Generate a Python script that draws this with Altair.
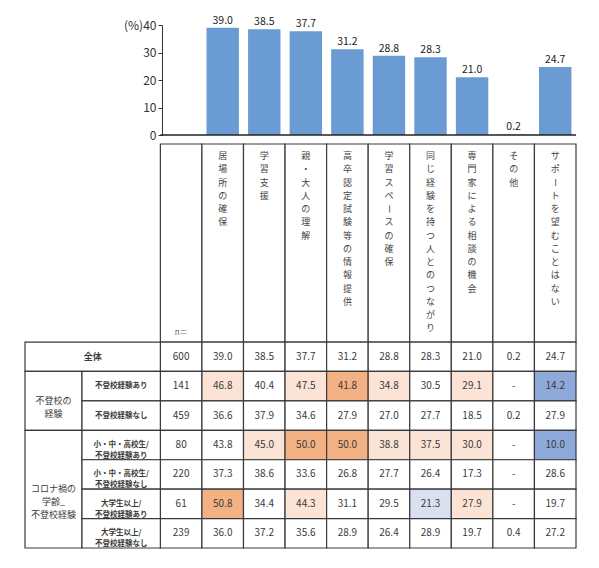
import altair as alt
import pandas as pd

# ---------------- data ----------------
categories = ["居場所の確保", "学習支援", "親・大人の理解", "高卒認定試験等の情報提供",
              "学習スペースの確保", "同じ経験を持つ人とのつながり", "専門家による相談の機会",
              "その他", "サポートを望むことはない"]
overall = [39.0, 38.5, 37.7, 31.2, 28.8, 28.3, 21.0, 0.2, 24.7]

row_labels = ["全体", "不登校経験あり", "不登校経験なし",
              "小・中・高校生/\n不登校経験あり", "小・中・高校生/\n不登校経験なし",
              "大学生以上/\n不登校経験あり", "大学生以上/\n不登校経験なし"]
row_n = [600, 141, 459, 80, 220, 61, 239]
group_labels = ["不登校の\n経験", "コロナ禍の\n学齢_\n不登校経験"]
group_first_row = [1, 3]
group_row_count = [2, 4]

row_values = [
    overall,
    [46.8, 40.4, 47.5, 41.8, 34.8, 30.5, 29.1, None, 14.2],
    [36.6, 37.9, 34.6, 27.9, 27.0, 27.7, 18.5, 0.2, 27.9],
    [43.8, 45.0, 50.0, 50.0, 38.8, 37.5, 30.0, None, 10.0],
    [37.3, 38.6, 33.6, 26.8, 27.7, 26.4, 17.3, None, 28.6],
    [50.8, 34.4, 44.3, 31.1, 29.5, 21.3, 27.9, None, 19.7],
    [36.0, 37.2, 35.6, 28.9, 26.4, 28.9, 19.7, 0.4, 27.2],
]
y_ticks = [0, 10, 20, 30, 40]

# ---------------- layout (column units / row units) ----------------
GROUP_W = 1.371
SUB_W = 1.886
X0 = -(GROUP_W + SUB_W)
XMAX = 10
HEADER_H = 6.73
CH_TOP = 0.41
CH_STEP = 0.4506
BAR_PAD = 0.11
FONT = "Noto Sans CJK JP"
TXT = "#3a3a3a"

# ---------------- bar chart ----------------
bars_df = pd.DataFrame({
    "cat": categories,
    "v": overall,
    "bx": [i + 1 + BAR_PAD for i in range(len(categories))],
    "bx2": [i + 2 - BAR_PAD for i in range(len(categories))],
    "mx": [i + 1.5 for i in range(len(categories))],
    "lab": [f"{v:.1f}" for v in overall],
})
base_df = pd.DataFrame({"bx": [0], "bx2": [XMAX], "v": [0]})

xs = alt.Scale(domain=[X0, XMAX], nice=False, zero=False)
ys_bar = alt.Scale(domain=[0, 40], nice=False)
y_axis = alt.Axis(
    values=y_ticks, offset=-137, grid=False, title=None,
    tickSize=4, domainColor="#333", tickColor="#333", labelColor="#333",
    labelFontSize=12, labelFont=FONT, labelPadding=2, labelOverlap=False,
    labelExpr="datum.value == 40 ? '(%)40' : datum.label")

bars = alt.Chart(bars_df).mark_bar(color="#6b9bd3").encode(
    x=alt.X("bx:Q", scale=xs, axis=None),
    x2="bx2:Q",
    y=alt.Y("v:Q", scale=ys_bar, axis=y_axis),
    y2=alt.Y2(datum=0),
)
bar_labels = alt.Chart(bars_df).mark_text(baseline="bottom", dy=-2, fontSize=10.5,
                                          font=FONT, color="#222").encode(
    x=alt.X("mx:Q", scale=xs, axis=None),
    y=alt.Y("v:Q", scale=ys_bar, axis=y_axis),
    text="lab:N",
)
baseline = alt.Chart(base_df).mark_rule(color="#222", strokeWidth=1.6).encode(
    x=alt.X("bx:Q", scale=xs, axis=None),
    x2="bx2:Q",
    y=alt.Y("v:Q", scale=ys_bar, axis=y_axis),
)
top = alt.layer(bars, bar_labels, baseline).properties(width=551, height=110)

# ---------------- table ----------------
def cls(v, ref):
    if v is None:
        return "none"
    d = round(v - ref, 1)
    if d > 10:
        return "up10"
    if d > 5:
        return "up5"
    if d < -10:
        return "down10"
    if d < -5:
        return "down5"
    return "none"

rects = []
nums = []
# header cells (n column + categories)
for c in range(len(categories) + 1):
    rects.append(dict(x=c, x2=c + 1, y=-HEADER_H, y2=0, cls="none"))
# body
for r in range(len(row_labels)):
    rects.append(dict(x=0, x2=1, y=r, y2=r + 1, cls="none"))
    nums.append(dict(x=0.5, y=r + 0.5, t=str(row_n[r])))
    for c, v in enumerate(row_values[r]):
        k = "none" if r == 0 else cls(v, overall[c])
        rects.append(dict(x=c + 1, x2=c + 2, y=r, y2=r + 1, cls=k))
        nums.append(dict(x=c + 1.5, y=r + 0.5, t="-" if v is None else f"{v:.1f}"))
# label cells
rects.append(dict(x=X0, x2=0, y=0, y2=1, cls="none"))
for g in range(len(group_labels)):
    rects.append(dict(x=X0, x2=X0 + GROUP_W, y=group_first_row[g],
                      y2=group_first_row[g] + group_row_count[g], cls="none"))
for r in range(1, len(row_labels)):
    rects.append(dict(x=X0 + GROUP_W, x2=0, y=r, y2=r + 1, cls="none"))

rect_df = pd.DataFrame(rects)
num_df = pd.DataFrame(nums)
sub_df = pd.DataFrame({"x": [X0 + GROUP_W + SUB_W / 2] * 6,
                       "y": [r + 0.5 for r in range(1, 7)],
                       "t": row_labels[1:]})
all_df = pd.DataFrame({"x": [X0 / 2], "y": [0.5], "t": [row_labels[0]]})
grp_df = pd.DataFrame({"x": [X0 + GROUP_W / 2] * len(group_labels),
                       "y": [group_first_row[g] + group_row_count[g] / 2 for g in range(len(group_labels))],
                       "t": group_labels})
chars = []
for c, name in enumerate(categories):
    for i, ch in enumerate(name):
        chars.append(dict(x=c + 1.5, y=-HEADER_H + CH_TOP + i * CH_STEP, t=ch,
                          ang=90 if ch == "ー" else 0))
char_df = pd.DataFrame(chars)
nlab_df = pd.DataFrame({"x": [0.5], "y": [-0.31], "t": ["n＝"]})

ys_tab = alt.Scale(domain=[-HEADER_H, 7], reverse=True, nice=False, zero=False)
X = lambda: alt.X("x:Q", scale=xs, axis=None)
Y = lambda: alt.Y("y:Q", scale=ys_tab, axis=None)

cells = alt.Chart(rect_df).mark_rect(stroke="#3a3a3a", strokeWidth=1.2).encode(
    x=X(), x2="x2:Q", y=Y(), y2="y2:Q",
    fill=alt.Fill("cls:N", legend=None, scale=alt.Scale(
        domain=["none", "up5", "up10", "down5", "down10"],
        range=["#ffffff", "#fbe3d5", "#f4b183", "#dae1ee", "#8eaadb"])),
)
num_text = alt.Chart(num_df).mark_text(fontSize=10, font=FONT, color=TXT).encode(
    x=X(), y=Y(), text="t:N")
sub_text = alt.Chart(sub_df).mark_text(fontSize=7.5, font=FONT, fontWeight="bold",
                                       color=TXT, lineBreak="\n", lineHeight=11).encode(
    x=X(), y=Y(), text="t:N")
all_text = alt.Chart(all_df).mark_text(fontSize=9, font=FONT, fontWeight="bold",
                                       color=TXT).encode(x=X(), y=Y(), text="t:N")
grp_text = alt.Chart(grp_df).mark_text(fontSize=9, font=FONT, color=TXT,
                                       lineBreak="\n", lineHeight=13).encode(
    x=X(), y=Y(), text="t:N")
char_text = alt.Chart(char_df).mark_text(fontSize=9, font=FONT, color="#444").encode(
    x=X(), y=Y(), text="t:N", angle=alt.Angle("ang:Q", scale=None))
n_text = alt.Chart(nlab_df).mark_text(fontSize=8, font=FONT, color="#666").encode(
    x=X(), y=Y(), text="t:N")

table = alt.layer(cells, num_text, sub_text, all_text, grp_text, char_text, n_text
                  ).properties(width=551, height=404)

chart = alt.vconcat(top, table, spacing=9, bounds="flush").properties(
    padding={"top": 7, "left": 16, "right": 5, "bottom": 5}
).configure_view(stroke=None)

chart.save("out.html", embed_options={"renderer": "svg", "actions": False})
